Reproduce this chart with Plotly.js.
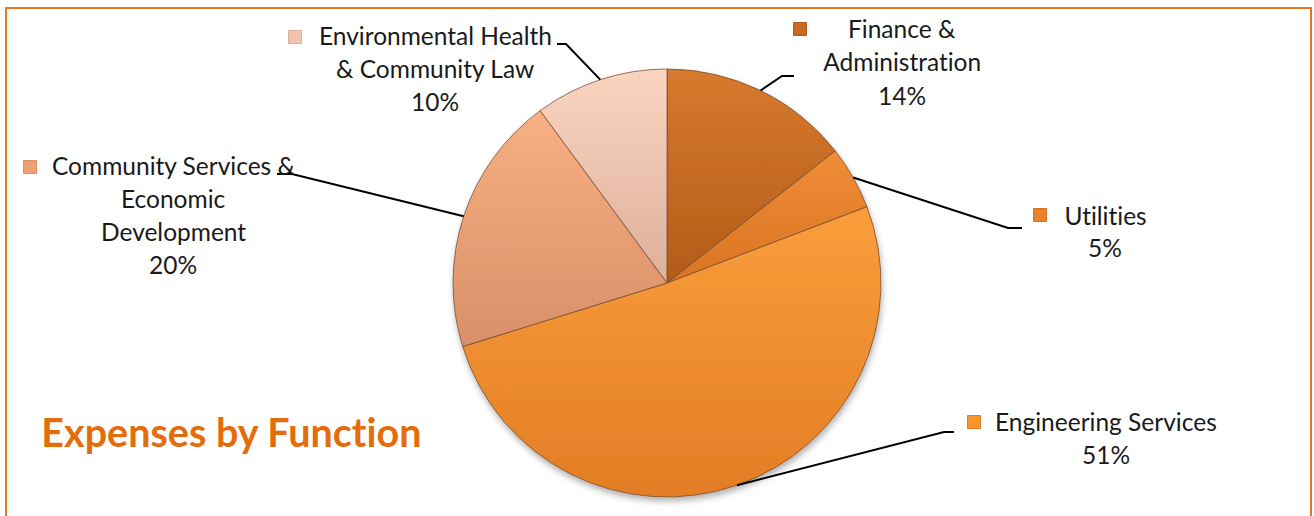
<!DOCTYPE html>
<html>
<head>
<meta charset="utf-8">
<script src="https://cdn.plot.ly/plotly-3.0.1.min.js"></script>
<style>
  html, body { margin: 0; padding: 0; background: #ffffff; }
  #chart { width: 1314px; height: 516px; }
  #chart text { font-variant-ligatures: none; font-feature-settings: "liga" 0, "clig" 0; }
</style>
</head>
<body>
<div id="chart"></div>
<script>
// ---------------- DATA ----------------
const categories = [
  'Finance & Administration',
  'Utilities',
  'Engineering Services',
  'Community Services & Economic Development',
  'Environmental Health & Community Law'
];
const values = [14.4, 4.8, 51.0, 19.7, 10.1];
const labelLines = [
  ['Finance &', 'Administration'],
  ['Utilities'],
  ['Engineering Services'],
  ['Community Services &', 'Economic', 'Development'],
  ['Environmental Health', '& Community Law']
];
const chartTitle = 'Expenses by Function';

// ---------------- STYLE / LAYOUT ----------------
const W = 1314, H = 516;
const baseColors = ['#C96A22', '#E9822C', '#F7952F', '#EFA072', '#F2C4AC'];
const shades = [
  ['#D67A2E', '#B35B18'],
  ['#F08D36', '#D97422'],
  ['#FA9E3B', '#E37D25'],
  ['#F8AF82', '#D98F68'],
  ['#FBD4BF', '#DCB09B']
];
const pie = { cx: 667, cy: 283, r: 214 };
const lineGap = 33;
// label placement (pixels): text centre x, first line centre y, legend square centre, leader elbow & end
const place = [
  { cx: 902,  y0: 29,  sq: [800, 29],  elbow: [782, 76],  end: [794, 76] },
  { cx: 1105, y0: 215, sq: [1040, 215], elbow: [1008, 228], end: [1022, 228] },
  { cx: 1106, y0: 421, sq: [974, 422], elbow: [944, 432],  end: [954, 432] },
  { cx: 173,  y0: 165, sq: [30, 167],  elbow: [292, 174],  end: [277, 174] },
  { cx: 435,  y0: 35,  sq: [295, 37],  elbow: [566, 44],   end: [557, 44] }
];

const px = x => x / W;
const py = y => 1 - y / H;

const total = values.reduce((a, b) => a + b, 0);
const annotations = [];
const shapes = [];

// frame
shapes.push({
  type: 'rect', xref: 'paper', yref: 'paper', layer: 'below',
  x0: px(6), x1: px(1311), y0: py(530), y1: py(8),
  line: { color: '#E8761E', width: 2 }, fillcolor: 'rgba(0,0,0,0)'
});

let cum = 0;
values.forEach((v, i) => {
  const mid = (cum + v / 2) / total * 2 * Math.PI; // clockwise from 12 o'clock
  cum += v;
  const ax = pie.cx + pie.r * Math.sin(mid);
  const ay = pie.cy - pie.r * Math.cos(mid);
  const p = place[i];
  // leader line
  shapes.push({
    type: 'path', xref: 'paper', yref: 'paper',
    path: `M ${px(ax)} ${py(ay)} L ${px(p.elbow[0])} ${py(p.elbow[1])} L ${px(p.end[0])} ${py(p.end[1])}`,
    line: { color: '#000000', width: 2 }
  });
  // legend square
  shapes.push({
    type: 'rect', xref: 'paper', yref: 'paper',
    x0: px(p.sq[0] - 6.5), x1: px(p.sq[0] + 6.5), y0: py(p.sq[1] + 6.5), y1: py(p.sq[1] - 6.5),
    fillcolor: baseColors[i], line: { color: shades[i][1], width: 1 }
  });
  const lines = labelLines[i].concat([Math.round(v / total * 100) + '%']);
  lines.forEach((t, k) => {
    annotations.push({
      xref: 'paper', yref: 'paper', x: px(p.cx), y: py(p.y0 + k * lineGap),
      xanchor: 'center', yanchor: 'middle', showarrow: false, text: t,
      font: { family: 'Lato, "Open Sans", sans-serif', size: 24.5, color: '#1a1a1a' }
    });
  });
});

annotations.push({
  xref: 'paper', yref: 'paper', x: px(39), y: py(431),
  xanchor: 'left', yanchor: 'middle', showarrow: false, text: '<b>' + chartTitle + '</b>',
  font: { family: 'Lato, "Open Sans", sans-serif', size: 39.5, color: '#E46C0A' }
});

const trace = {
  type: 'pie',
  labels: categories,
  values: values,
  sort: false,
  direction: 'clockwise',
  rotation: 0,
  textinfo: 'none',
  hoverinfo: 'label+percent',
  marker: { colors: baseColors, line: { color: 'rgba(110,75,50,0.75)', width: 1 } },
  domain: { x: [px(pie.cx - pie.r), px(pie.cx + pie.r)], y: [py(pie.cy + pie.r), py(pie.cy - pie.r)] },
  showlegend: false
};

const layout = {
  width: W, height: H,
  margin: { l: 0, r: 0, t: 0, b: 0 },
  paper_bgcolor: '#ffffff', plot_bgcolor: '#ffffff',
  showlegend: false,
  shapes: shapes,
  annotations: annotations
};

Plotly.newPlot('chart', [trace], layout, { displayModeBar: false, staticPlot: true }).then(gd => {
  const NS = 'http://www.w3.org/2000/svg';
  const svg = gd.querySelector('svg.main-svg');
  let defs = svg.querySelector('defs');
  if (!defs) { defs = document.createElementNS(NS, 'defs'); svg.insertBefore(defs, svg.firstChild); }
  shades.forEach((s, i) => {
    const g = document.createElementNS(NS, 'linearGradient');
    g.setAttribute('id', 'pieshade' + i);
    g.setAttribute('x1', '0'); g.setAttribute('y1', '0');
    g.setAttribute('x2', '0'); g.setAttribute('y2', '1');
    [[0, s[0]], [1, s[1]]].forEach(([o, c]) => {
      const st = document.createElementNS(NS, 'stop');
      st.setAttribute('offset', o); st.setAttribute('stop-color', c);
      g.appendChild(st);
    });
    defs.appendChild(g);
  });
  const f = document.createElementNS(NS, 'filter');
  f.setAttribute('id', 'pieshadow');
  f.setAttribute('x', '-10%'); f.setAttribute('y', '-10%');
  f.setAttribute('width', '120%'); f.setAttribute('height', '125%');
  const ds = document.createElementNS(NS, 'feDropShadow');
  ds.setAttribute('dx', '1'); ds.setAttribute('dy', '4');
  ds.setAttribute('stdDeviation', '3'); ds.setAttribute('flood-color', '#000');
  ds.setAttribute('flood-opacity', '0.3');
  f.appendChild(ds); defs.appendChild(f);
  gd.querySelectorAll('.pielayer .slice path.surface').forEach((p, i) => {
    p.style.fill = 'url(#pieshade' + i + ')';
  });
  const pl = gd.querySelector('.pielayer');
  if (pl) pl.setAttribute('filter', 'url(#pieshadow)');
});
</script>
</body>
</html>
